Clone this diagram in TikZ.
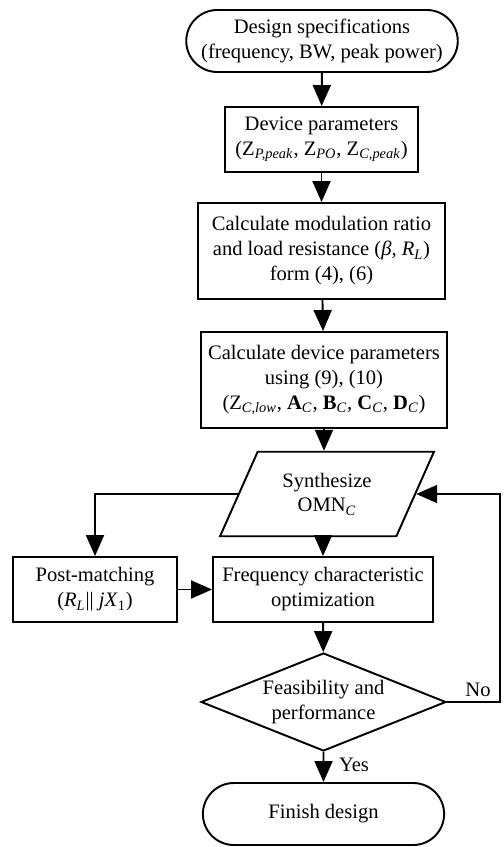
\documentclass[tikz,border=0pt]{standalone}
\usepackage{fontspec}
\setmainfont{Liberation Serif}
\usepackage{tikz}
\usetikzlibrary{shapes,arrows.meta,positioning,calc}

\begin{document}
\begin{tikzpicture}[x=0.02cm, y=-0.02cm,
    font=\fontsize{11.7}{14.2}\selectfont,
    line width=1.1pt,
    box/.style={draw, rectangle, align=center, inner sep=2pt},
    term/.style={draw, rounded rectangle, align=center, minimum width=5.3cm, minimum height=1.24cm},
    arr/.style={-{Triangle[length=0.42cm,width=0.36cm]}}]
    \useasboundingbox (0,0) rectangle (503,847);

    \node[term] (spec) at (322,41) {Design specifications\\(frequency, BW, peak power)};
    \node[box, minimum width=3.86cm, minimum height=1.3cm] (dev) at (321.5,139.5)
        {Device parameters\\(Z\textsubscript{\textit{P,peak}}, Z\textsubscript{\textit{PO}}, Z\textsubscript{\textit{C,peak}})};
    \node[box, minimum width=4.94cm, minimum height=1.92cm] (ratio) at (321.5,251)
        {Calculate modulation ratio\\and load resistance (\textit{β, R}\textsubscript{\textit{L}})\\form (4), (6)};
    \node[box, minimum width=4.92cm, minimum height=1.92cm] (param) at (324,380)
        {Calculate device parameters\\using (9), (10)\\(Z\textsubscript{\textit{C,low}}, \textbf{A}\textsubscript{\textit{C}}, \textbf{B}\textsubscript{\textit{C}}, \textbf{C}\textsubscript{\textit{C}}, \textbf{D}\textsubscript{\textit{C}})};
    \node[draw, trapezium, trapezium left angle=66, trapezium right angle=114, align=center,
          minimum width=4.3cm, minimum height=1.28cm, inner xsep=0pt] (synth) at (327,494)
        {Synthesize\\OMN\textsubscript{\textit{C}}};
    \node[box, minimum width=3.28cm, minimum height=1.3cm] (post) at (95,589.5)
        {Post-matching\\(\textit{R}\textsubscript{\textit{L}}|| \textit{jX}\textsubscript{1})};
    \node[box, minimum width=4.4cm, minimum height=1.3cm] (freq) at (323,589.5)
        {Frequency characteristic\\optimization};
    \node[draw, diamond, aspect=2.5, align=center, minimum width=4.9cm, minimum height=1.96cm, inner sep=0pt] (feas) at (323.5,702)
        {Feasibility and\\performance};
    \node[term, minimum width=5.06cm] (fin) at (323.5,814) {Finish design};

    \coordinate (fb) at (500,702);

    \draw[arr] (spec) -- (dev);
    \draw[arr] (dev) -- (ratio);
    \draw[arr] (ratio) -- (param);
    \draw[arr] (param.south) -- (param.south |- synth.north);
    \draw[arr] (synth.south -| freq.north) -- (freq.north);
    \draw[arr] (synth.west) -| (post.north);
    \draw[arr] (post) -- (freq);
    \draw[arr] (freq) -- (feas);
    \draw[arr] (feas) -- (fin);
    \draw[arr] (feas.east) -- (fb) |- (synth.east);

    \node at (478,690) {No};
    \node at (354,765) {Yes};
\end{tikzpicture}
\end{document}
